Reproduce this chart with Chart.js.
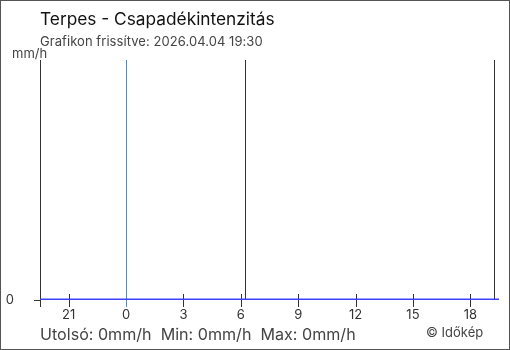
<!DOCTYPE html>
<html>
<head>
<meta charset="utf-8">
<script src="https://cdn.jsdelivr.net/npm/chart.js@4/dist/chart.umd.min.js"></script>
<style>
  body { margin: 0; background: #fff; }
  .wrap { position: relative; width: 510px; height: 350px; box-sizing: border-box; border: 1px solid #555; font-family: Inter, sans-serif; color: #222; }
  canvas { position: absolute; left: -1px; top: -1px; }
  .txt { position: absolute; white-space: nowrap; }
  .title { left: 39px; top: 7px; font-size: 17.3px; color: #111; }
  .sub { left: 39px; top: 32px; font-size: 13px; color: #444; letter-spacing: 0.06px; }
  .unit { left: 11px; top: 44px; font-size: 13px; color: #444; }
  .stats { left: 39px; top: 323px; font-size: 16.1px; color: #444; }
  .copy { left: 425px; top: 323px; font-size: 13px; color: #444; }
</style>
</head>
<body>
<div class="wrap">
  <canvas id="c" width="510" height="350"></canvas>
  <div class="txt title">Terpes - Csapadékintenzitás</div>
  <div class="txt sub">Grafikon frissítve: 2026.04.04 19:30</div>
  <div class="txt unit">mm/h</div>
  <div class="txt stats">Utolsó: 0mm/h&nbsp; Min: 0mm/h&nbsp; Max: 0mm/h</div>
  <div class="txt copy">© Időkép</div>
</div>
<script>
// hours counted from the previous day's midnight (24 = midnight)
const hours = [19.5, 20.5, 21.5, 22.5, 23.5, 24.5, 25.5, 26.5, 27.5, 28.5, 29.5, 30.5, 31.5,
  32.5, 33.5, 34.5, 35.5, 36.5, 37.5, 38.5, 39.5, 40.5, 41.5, 42.5, 43.5];
const rain = [0, 0, 0, 0, 0, 0, 0, 0, 0, 0, 0, 0, 0, 0, 0, 0, 0, 0, 0, 0, 0, 0, 0, 0, 0];
const xTicks = [21, 24, 27, 30, 33, 36, 39, 42];
const midnight = [24];
const sunMarks = [30.2, 43.25]; // sunrise, sunset

const markers = {
  id: 'markers',
  beforeDatasetsDraw(chart) {
    const { ctx, chartArea: a, scales: { x } } = chart;
    ctx.save();
    ctx.lineWidth = 1;
    // tick marks crossing the axis
    ctx.strokeStyle = '#333';
    xTicks.forEach(v => {
      const px = Math.round(x.getPixelForValue(v)) + 0.5;
      ctx.beginPath();
      ctx.moveTo(px, a.bottom - 6);
      ctx.lineTo(px, a.bottom + 7);
      ctx.stroke();
    });
    // y axis line + zero tick
    ctx.beginPath();
    ctx.moveTo(a.left + 0.5, a.top);
    ctx.lineTo(a.left + 0.5, a.bottom + 7);
    ctx.moveTo(a.left - 6, a.bottom + 0.5);
    ctx.lineTo(a.left, a.bottom + 0.5);
    ctx.stroke();
    sunMarks.forEach(v => {
      const px = Math.round(x.getPixelForValue(v)) + 0.5;
      ctx.beginPath();
      ctx.moveTo(px, a.top);
      ctx.lineTo(px, a.bottom);
      ctx.stroke();
    });
    ctx.strokeStyle = '#4a8cc4';
    midnight.forEach(v => {
      const px = Math.round(x.getPixelForValue(v)) + 0.5;
      ctx.beginPath();
      ctx.moveTo(px, a.top);
      ctx.lineTo(px, a.bottom + 7);
      ctx.stroke();
    });
    ctx.restore();
  }
};

new Chart(document.getElementById('c'), {
  type: 'line',
  data: {
    datasets: [{
      data: hours.map((h, i) => ({ x: h, y: rain[i] })),
      borderColor: '#4040ff',
      borderWidth: 3,
      pointRadius: 0,
      tension: 0
    }]
  },
  options: {
    responsive: false,
    animation: false,
    layout: { padding: { top: 60, right: 11, left: 0, bottom: 0 } },
    plugins: { legend: { display: false }, tooltip: { enabled: false } },
    scales: {
      x: {
        type: 'linear',
        min: 19.5,
        max: 43.5,
        afterBuildTicks: s => { s.ticks = xTicks.map(v => ({ value: v })); },
        afterFit: s => { s.height = 50; },
        grid: { display: false },
        border: { display: false },
        ticks: {
          autoSkip: false,
          maxRotation: 0,
          padding: -1,
          color: '#333',
          font: { family: 'Inter', size: 13 },
          callback: v => String(v % 24)
        }
      },
      y: {
        min: 0,
        max: 1,
        afterBuildTicks: s => { s.ticks = [{ value: 0 }]; },
        afterFit: s => { s.width = 40; },
        grid: { display: false },
        border: { display: false },
        ticks: {
          padding: 18,
          color: '#333',
          font: { family: 'Inter', size: 13 }
        }
      }
    }
  },
  plugins: [markers]
});
</script>
</body>
</html>
